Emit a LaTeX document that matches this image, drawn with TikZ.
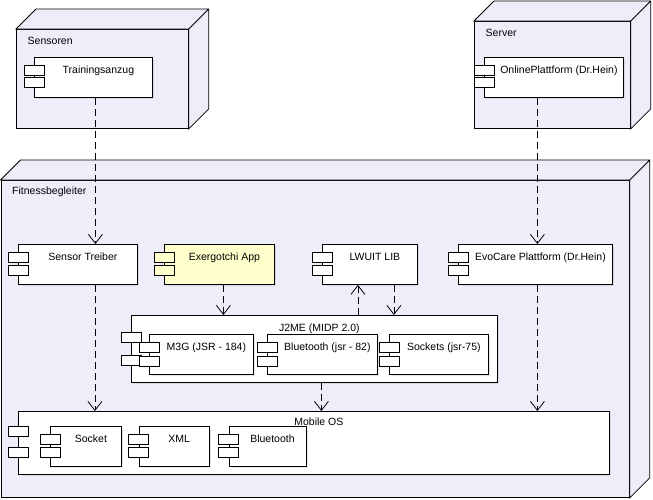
\documentclass[tikz,border=0pt]{standalone}
\usepackage{fontspec}
\setmainfont{Liberation Sans}
\usepackage{xcolor}
\usepackage{tikz}
\usetikzlibrary{positioning,%
  arrows.meta,%
  shadows
}
\definecolor{nodelila}{RGB}{238,238,251}
\definecolor{appgelb}{RGB}{255,255,204}

\begin{document}
\begin{tikzpicture}
                    [x=1pt, y=-1pt,
                    dev/.style={rectangle,
                        inner sep=0pt, anchor=north west,
                        fill=nodelila, draw},
                    side/.style={fill=nodelila, draw},
                    cmp/.style={rectangle,
                        inner sep=0pt, anchor=north west,
                        text height=16pt, text depth=24pt,
                        execute at begin node={\hspace*{10pt}},
                        drop shadow={shadow xshift=1.5pt, shadow yshift=-1.5pt, opacity=.2},
                        fill=white, draw},
                    dep/.style={dash pattern=on 7pt off 4pt,
                        -{Straight Barb[length=9pt,width=14pt]}},
                    thick, font=\fontsize{10.5}{12}\selectfont, node distance=18pt]

                    \useasboundingbox (0,0) rectangle (653,499);

                    \node[dev, minimum width=172, minimum height=99] (sens) at (16,29) {};
                    \node[dev, minimum width=156, minimum height=107] (serv) at (474,21) {};
                    \node[dev, minimum width=628.5, minimum height=317] (fit) at (0.5,180) {};
                    \foreach \n in {sens,serv,fit}
                        \draw[side] (\n.north west) -- ++(20,-20)
                            -- ([shift={(20,-20)}]\n.north east)
                            -- ([shift={(20,-20)}]\n.south east)
                            -- (\n.south east) -- (\n.north east) -- cycle
                            (\n.north east) -- ++(20,-20);

                    \node[anchor=west] (sensl) at ([shift={(8,12)}]sens.north west) {Sensoren};
                    \node[anchor=west] (servl) at ([shift={(8,12)}]serv.north west) {Server};
                    \node[anchor=west] (fitl) at ([shift={(8,12)}]fit.north west) {Fitnessbegleiter};

                    \node[cmp, minimum width=118] (ta) at (34,57) {Trainingsanzug};
                    \node[cmp, minimum width=139] (op) at (484,57) {OnlinePlattform (Dr.Hein)};
                    \node[cmp, minimum width=119] (st) at (18,244) {Sensor Treiber};
                    \node[cmp, minimum width=110, fill=appgelb] (ex) at (164,244) {Exergotchi App};
                    \node[cmp, minimum width=95] (lw) at (322,244) {LWUIT LIB};
                    \node[cmp, minimum width=154] (ev) at (458,244) {EvoCare Plattform (Dr.Hein)};
                    \node[cmp, minimum width=366, text depth=51pt] (j2) at (131,315) {J2ME (MIDP 2.0)};
                    \node[cmp, minimum width=104] (m3) at (149,334) {M3G (JSR - 184)};
                    \node[cmp, minimum width=110] (bt) at (267,334) {Bluetooth (jsr - 82)};
                    \node[cmp, minimum width=99] (so) at (389,334) {Sockets (jsr-75)};
                    \node[cmp, minimum width=591, text height=14pt, text depth=49pt] (mo) at (18,411) {Mobile OS};
                    \node[cmp, minimum width=71] (sk) at (50,426) {Socket};
                    \node[cmp, minimum width=70, anchor=west, right=17pt of sk] (xm) {XML};
                    \node[cmp, minimum width=77, anchor=west, right=19pt of xm] (bl) {Bluetooth};

                    \foreach \n/\a/\b/\c in {ta/8/20/white, op/8/20/white, st/8/21/white,
                        ex/8/21/appgelb, lw/8/21/white, ev/8/21/white, j2/17/40/white,
                        m3/8/22/white, bt/8/22/white, so/8/22/white, mo/15/36/white,
                        sk/8/21/white, xm/8/21/white, bl/8/21/white}
                        \draw[fill=\c] ([shift={(-10,\a)}]\n.north west) rectangle ++(20,10)
                            ([shift={(-10,\b)}]\n.north west) rectangle ++(20,10);

                    \draw[dep] ([xshift=2]ta.south) -- ([xshift=2]ta.south |- st.north);
                    \draw[dep] ([xshift=2]ev.north |- op.south) -- ([xshift=2]ev.north);
                    \draw[dep] ([xshift=17]st.south) -- ([xshift=17]st.south |- mo.north);
                    \draw[dep] ([xshift=4]ex.south) -- ([xshift=4]ex.south |- j2.north);
                    \draw[dep] ([xshift=-12]lw.south |- j2.north) -- ([xshift=-12]lw.south);
                    \draw[dep] ([xshift=24]lw.south) -- ([xshift=24]lw.south |- j2.north);
                    \draw[dep] ([xshift=7]j2.south) -- ([xshift=7]j2.south |- mo.north);
                    \draw[dep] ([xshift=2]ev.south) -- ([xshift=2]ev.south |- mo.north);
                \end{tikzpicture}
\end{document}
